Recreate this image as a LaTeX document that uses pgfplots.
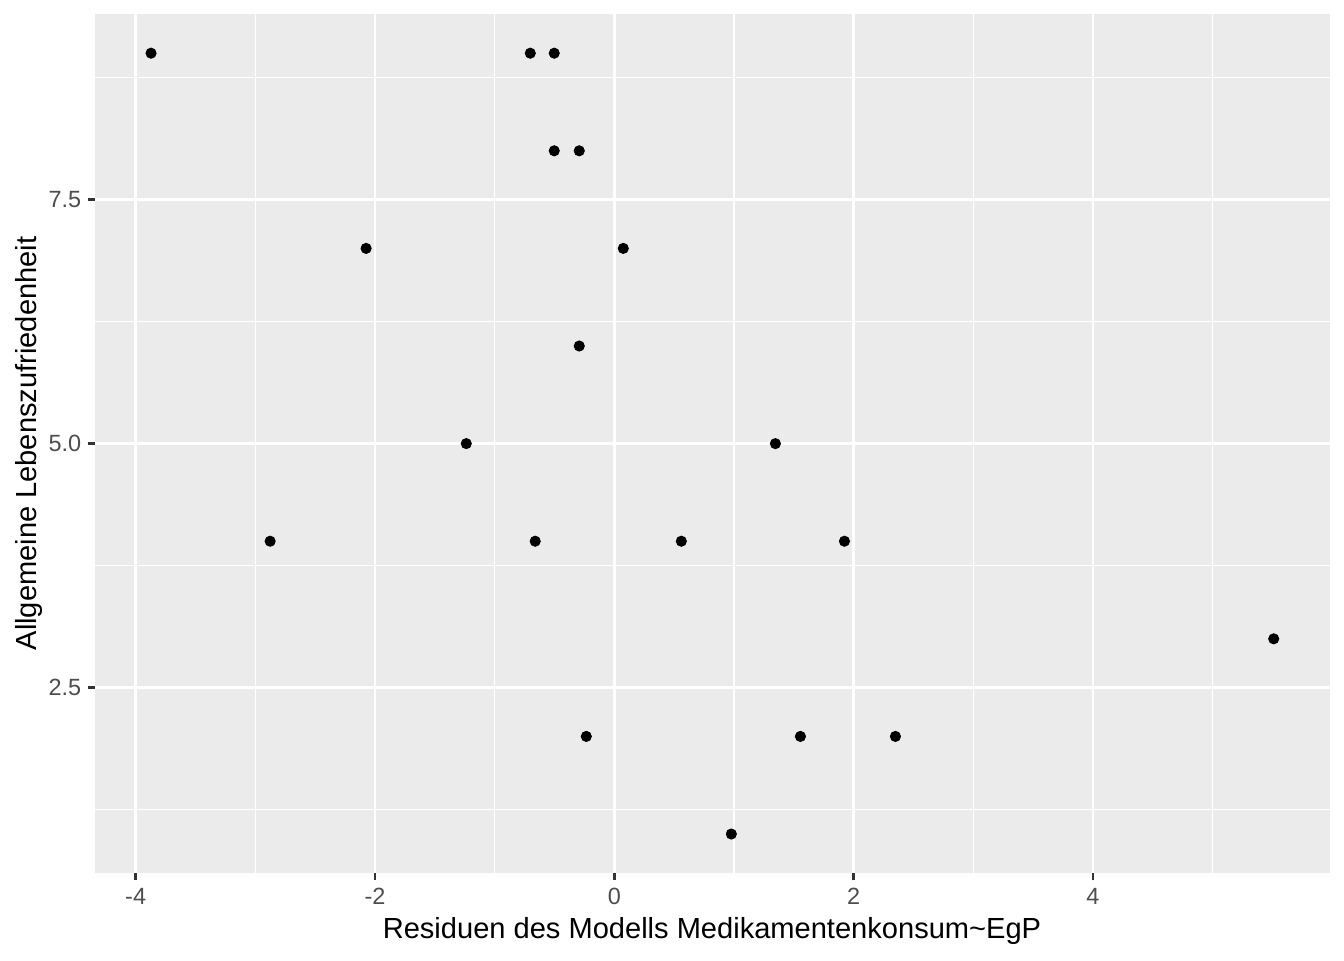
\documentclass[border=0pt]{standalone}
\usepackage{fontspec}
\setmainfont{Liberation Sans}
\usepackage{pgfplots}
\pgfplotsset{compat=1.18}
\definecolor{ggbg}{HTML}{EBEBEB}
\definecolor{grey30}{HTML}{4D4D4D}
\definecolor{grey20}{HTML}{333333}
\begin{document}
\begin{tikzpicture}
\useasboundingbox (0,0) rectangle (504pt,360pt);
\begin{axis}[
  at={(35.6pt,32.6pt)}, anchor=south west, scale only axis,
  width=463.1pt, height=322.1pt,
  xmin=-4.340, xmax=5.979, ymin=0.6, ymax=9.4,
  axis line style={draw=none},
  axis background/.style={fill=ggbg},
  xtick={-4,-2,0,2,4}, xticklabels={-4,-2,0,2,4},
  ytick={2.5,5,7.5}, yticklabels={2.5,5.0,7.5},
  minor xtick={-3,-1,1,3,5}, minor ytick={1.25,3.75,6.25,8.75},
  grid=both,
  major grid style={white, line width=1.07pt},
  minor grid style={white, line width=0.53pt},
  tick align=outside, major tick length=2.75pt, minor tick length=0pt,
  xtick pos=bottom, ytick pos=left,
  major tick style={grey20, line width=1.07pt},
  tick label style={font=\fontsize{8.8}{10}\selectfont, text=grey30},
  xticklabel style={anchor=base, yshift=-8.85pt},
  yticklabel style={anchor=east, xshift=1.15pt},
]
\addplot[only marks, mark=*, mark size=1.875pt, draw=black, fill=black] coordinates {
(-3.871,9) (-0.702,9) (-0.502,9)
(-0.502,8) (-0.293,8)
(-2.074,7) (0.075,7)
(-0.293,6)
(-1.237,5) (1.346,5)
(-2.876,4) (-0.661,4) (0.560,4) (1.923,4)
(5.510,3)
(-0.234,2) (1.555,2) (2.349,2)
(0.978,1)
};
\end{axis}
\node[anchor=base, font=\fontsize{10.9}{13}\selectfont] at (267pt,7.9pt) {Residuen des Modells Medikamentenkonsum\textasciitilde EgP};
\node[anchor=base, rotate=90, font=\fontsize{10.9}{13}\selectfont] at (13.8pt,193.7pt) {Allgemeine Lebenszufriedenheit};
\end{tikzpicture}
\end{document}
